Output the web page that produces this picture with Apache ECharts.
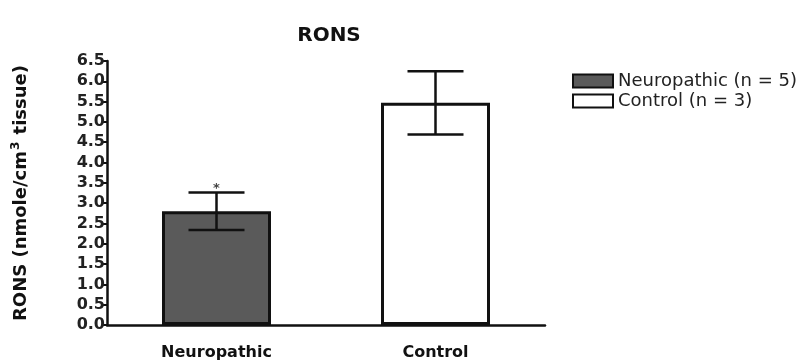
<!DOCTYPE html>
<html>
<head>
<meta charset="utf-8">
<script src="https://cdn.jsdelivr.net/npm/echarts@6/dist/echarts.min.js"></script>
<style>
  html, body { margin: 0; padding: 0; background: #ffffff; }
  #chart { width: 806px; height: 362px; }
</style>
</head>
<body>
<div id="chart"></div>
<script>
// Groups along the x axis
const categories = ['Neuropathic', 'Control'];
// Legend entries, one per group
const seriesNames = ['Neuropathic (n = 5)', 'Control (n = 3)'];
// Mean RONS level per group (nmole/cm3 tissue)
const means = [2.8, 5.47];
// Standard error of the mean per group
const errors = [0.46, 0.78];
// Significance markers drawn above the error bars
const markers = ['*', ''];
// Y axis ticks
const yMin = 0;
const yMax = 6.5;
const yStep = 0.5;

const ink = '#111111';
const boldFont = 'DejaVu Sans';
const plainFont = 'DejaVu Sans';

const chart = echarts.init(document.getElementById('chart'));

const barSeries = seriesNames.map((name, i) => ({
  name: name,
  type: 'bar',
  barWidth: 109,
  barGap: '-100%',
  data: categories.map((c, j) => (j === i ? means[i] : '-')),
  itemStyle: {
    color: i === 0 ? '#5a5a5a' : '#ffffff',
    borderColor: ink,
    borderWidth: 3
  },
  z: 2
}));

const errorSeries = {
  type: 'custom',
  name: 'error',
  data: categories.map((c, i) => [i, means[i] - errors[i], means[i] + errors[i]]),
  encode: { x: 0, y: [1, 2] },
  z: 5,
  silent: true,
  renderItem: function (params, api) {
    const idx = api.value(0);
    const hi = api.coord([idx, api.value(2)]);
    const lo = api.coord([idx, api.value(1)]);
    const half = 28;
    const style = { stroke: ink, lineWidth: 2.5 };
    const children = [
      { type: 'line', shape: { x1: hi[0], y1: hi[1], x2: lo[0], y2: lo[1] }, style: style },
      { type: 'line', shape: { x1: hi[0] - half, y1: hi[1], x2: hi[0] + half, y2: hi[1] }, style: style },
      { type: 'line', shape: { x1: lo[0] - half, y1: lo[1], x2: lo[0] + half, y2: lo[1] }, style: style }
    ];
    const mark = markers[params.dataIndex];
    if (mark) {
      children.push({
        type: 'text',
        style: {
          text: mark, x: hi[0], y: hi[1] + 3,
          align: 'center', verticalAlign: 'bottom',
          fill: '#444', font: 'bold 13px ' + boldFont
        }
      });
    }
    return { type: 'group', children: children };
  }
};

chart.setOption({
  animation: false,
  backgroundColor: '#ffffff',
  title: {
    text: 'RONS',
    left: 324,
    top: 21,
    textAlign: 'center',
    textStyle: { fontFamily: boldFont, fontWeight: 'bold', fontSize: 20, color: ink }
  },
  legend: {
    data: seriesNames,
    orient: 'vertical',
    left: 572,
    top: 72,
    padding: 0,
    icon: 'rect',
    itemWidth: 40,
    itemHeight: 13,
    itemGap: 2,
    textStyle: { fontFamily: plainFont, fontSize: 18, color: '#222', padding: [0, 0, 0, 0] }
  },
  grid: { left: 107, right: 261, top: 61, bottom: 37, containLabel: false },
  xAxis: {
    type: 'category',
    data: categories,
    axisLine: { lineStyle: { color: ink, width: 2.5 } },
    axisTick: { show: false },
    axisLabel: { margin: 20, fontFamily: boldFont, fontWeight: 'bold', fontSize: 16, color: ink },
    splitLine: { show: false }
  },
  yAxis: {
    type: 'value',
    min: yMin,
    max: yMax,
    interval: yStep,
    name: '{t|RONS (nmole/cm}{s|3}{t| tissue)}',
    nameLocation: 'middle',
    nameGap: 75,
    nameRotate: 90,
    nameTextStyle: {
      rich: {
        t: { fontFamily: boldFont, fontWeight: 'bold', fontSize: 18, color: ink },
        s: { fontFamily: boldFont, fontWeight: 'bold', fontSize: 12, color: ink, verticalAlign: 'top', padding: [0, 1, 10, 1] }
      }
    },
    axisLine: { show: true, lineStyle: { color: ink, width: 2.5 } },
    axisTick: { show: true, length: 5, lineStyle: { color: ink, width: 2 } },
    axisLabel: {
      margin: 2,
      fontFamily: boldFont, fontWeight: 'bold', fontSize: 16, color: '#222',
      formatter: v => v.toFixed(1)
    },
    splitLine: { show: false }
  },
  series: barSeries.concat([errorSeries])
});
</script>
</body>
</html>
